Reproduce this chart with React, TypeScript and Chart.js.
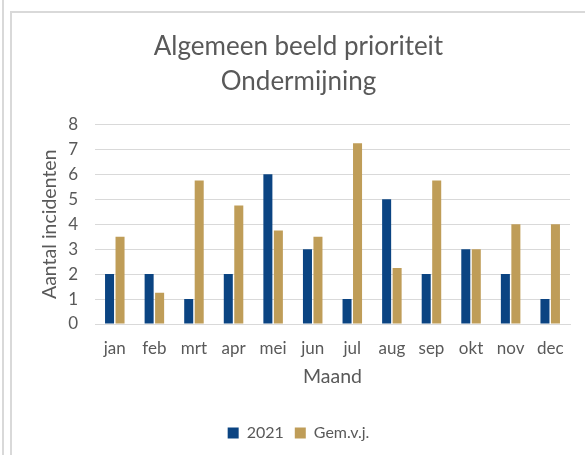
import React, { useEffect, useRef } from "react";
import { Chart, registerables } from "chart.js";

Chart.register(...registerables);

const months = ["jan", "feb", "mrt", "apr", "mei", "jun", "jul", "aug", "sep", "okt", "nov", "dec"];
const values2021 = [2, 2, 1, 2, 6, 3, 1, 5, 2, 3, 2, 1];
const valuesGem = [3.5, 1.25, 5.75, 4.75, 3.75, 3.5, 7.25, 2.25, 5.75, 3, 4, 4];
const titleLines = ["Algemeen beeld prioriteit", "Ondermijning"];

const FONT = "Lato, 'Open Sans', sans-serif";
const GREY = "#595959";

export default function App() {
  const ref = useRef<HTMLCanvasElement | null>(null);
  useEffect(() => {
    if (!ref.current) return;
    const chart = new Chart(ref.current, {
      type: "bar",
      data: {
        labels: months,
        datasets: [
          { label: "2021", data: values2021, backgroundColor: "#0b4482", borderWidth: 0 },
          { label: "Gem.v.j.", data: valuesGem, backgroundColor: "#bf9d58", borderWidth: 0 },
        ],
      },
      options: {
        animation: false,
        responsive: false,
        maintainAspectRatio: false,
        layout: { padding: { left: 15, right: 15, top: 12, bottom: 4 } },
        datasets: { bar: { categoryPercentage: 0.53, barPercentage: 0.86 } },
        plugins: {
          title: {
            display: true,
            text: titleLines,
            color: GREY,
            font: { family: FONT, size: 26, weight: "normal", lineHeight: 1.346 },
            padding: { top: 4.5, bottom: 25 },
          },
          legend: {
            position: "bottom",
            labels: {
              color: GREY,
              font: { family: FONT, size: 16 },
              boxWidth: 11,
              boxHeight: 11,
              padding: 11,
            },
          },
          tooltip: { enabled: false },
        },
        scales: {
          x: {
            grid: { display: false },
            border: { display: true, color: "#d9d9d9" },
            ticks: { color: GREY, font: { family: FONT, size: 17 }, padding: 6 },
            title: { display: true, text: "Maand", color: GREY, font: { family: FONT, size: 19.5 }, padding: { top: 0, bottom: 26 } },
            afterFit: (s: any) => { s.height = 90; },
          },
          y: {
            min: 0,
            max: 8,
            ticks: { stepSize: 1, color: GREY, font: { family: FONT, size: 17 }, padding: 17 },
            grid: { color: "#d9d9d9", drawTicks: false },
            border: { display: false },
            title: { display: true, text: "Aantal incidenten", color: GREY, font: { family: FONT, size: 19.5 }, padding: { top: 11, bottom: 0 } },
            afterFit: (s: any) => { s.width = 68; },
          },
        },
      },
    });
    return () => chart.destroy();
  }, []);
  return (
    <div style={{ position: "absolute", left: 0, top: 0, width: 585, height: 455, background: "#fff", overflow: "hidden" }}>
      <div style={{ position: "absolute", left: 2, top: 0, width: 2, height: 455, background: "#d9d9d9" }} />
      <div style={{ position: "absolute", left: 10, top: 11, width: 575, height: 444, borderLeft: "2px solid #d9d9d9", borderTop: "2px solid #d9d9d9", boxSizing: "border-box" }} />
      <canvas ref={ref} width={573} height={442} style={{ position: "absolute", left: 12, top: 13 }} />
    </div>
  );
}
